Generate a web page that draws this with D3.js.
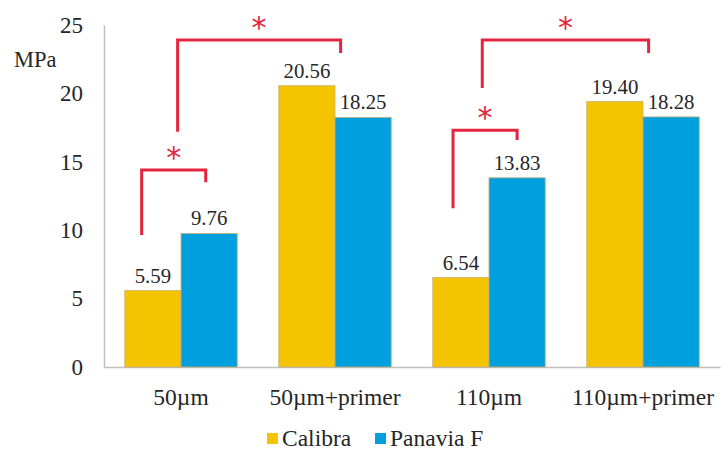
<!DOCTYPE html>
<html>
<head>
<meta charset="utf-8">
<script src="https://cdn.jsdelivr.net/npm/d3@7"></script>
<style>
  body { margin: 0; background: #fff; }
  svg text.lbl { font-family: "Liberation Serif", serif !important; }
  svg text.star { font-family: "DejaVu Sans", sans-serif !important; }
</style>
</head>
<body>
<script>
let categories = ['50µm', '50µm+primer', '110µm', '110µm+primer']
let seriesNames = ['Calibra', 'Panavia F']
let calibra = [5.59, 20.56, 6.54, 19.40]
let panavia = [9.76, 18.25, 13.83, 18.28]
let yTicks = [0, 5, 10, 15, 20, 25]
let colors = ['#f5c400', '#00a0de']

// significance brackets: [category index, offset in band (0..1)], y values in MPa
let brackets = [
  { from: [0, 0.15], to: [0, 0.72], yLeft: 9.65, yTop: 14.4, yRight: 13.5 },
  { from: [0, 0.47], to: [1, 0.55], yLeft: 17.2, yTop: 23.9, yRight: 22.95 },
  { from: [2, 0.18], to: [2, 0.75], yLeft: 11.6, yTop: 17.3, yRight: 16.6 },
  { from: [2, 0.44], to: [3, 0.55], yLeft: 20.4, yTop: 23.9, yRight: 22.95 }
]

let svgWidth = 721
let svgHeight = 453

let svg = d3.select('body')
  .append('svg')
  .attr('width', svgWidth)
  .attr('height', svgHeight)

let xScale = d3.scaleBand()
  .domain(categories)
  .range([104, 720])
  .paddingInner(0.27)
  .paddingOuter(0.135)

let subScale = d3.scaleBand()
  .domain(seriesNames)
  .range([0, xScale.bandwidth()])

let yScale = d3.scaleLinear()
  .domain([0, 25])
  .range([367, 25])

// y axis
let yAxis = svg.append('g')
  .attr('transform', 'translate(104,0)')
  .call(d3.axisLeft(yScale).tickValues(yTicks).tickSize(0).tickPadding(21))
yAxis.select('.domain').attr('stroke', '#bfbfbf').attr('stroke-width', 1.5)
yAxis.selectAll('text').attr('class', 'lbl')
  .style('font-size', '23px').attr('fill', '#262626')

svg.append('text')
  .attr('class', 'lbl')
  .attr('x', 14)
  .attr('y', 67)
  .style('font-size', '22.5px')
  .attr('fill', '#262626')
  .text('MPa')

// x axis
let xAxis = svg.append('g')
  .attr('transform', 'translate(0,367)')
  .call(d3.axisBottom(xScale).tickSize(0).tickPadding(21))
xAxis.select('.domain').attr('stroke', '#bfbfbf').attr('stroke-width', 1.5)
xAxis.selectAll('text').attr('class', 'lbl')
  .style('font-size', '23.5px').attr('fill', '#262626')

let rows = categories.map((c, i) => ({ cat: c, values: [calibra[i], panavia[i]] }))

let groups = svg.selectAll('.grp')
  .data(rows)
  .enter()
  .append('g')
  .attr('class', 'grp')
  .attr('transform', d => `translate(${xScale(d.cat)},0)`)

groups.selectAll('rect')
  .data(d => d.values.map((v, j) => ({ name: seriesNames[j], v: v, j: j })))
  .enter()
  .append('rect')
  .attr('x', d => subScale(d.name))
  .attr('y', d => yScale(d.v))
  .attr('width', subScale.bandwidth())
  .attr('height', d => yScale(0) - yScale(d.v))
  .attr('fill', d => colors[d.j])
  .attr('stroke', '#c8b070')
  .attr('stroke-width', 0.8)

groups.selectAll('.lbl')
  .data(d => d.values.map((v, j) => ({ name: seriesNames[j], v: v })))
  .enter()
  .append('text')
  .attr('class', 'lbl')
  .attr('x', d => subScale(d.name) + subScale.bandwidth() / 2)
  .attr('y', d => yScale(d.v) - 8)
  .attr('text-anchor', 'middle')
  .style('font-size', '20.8px')
  .attr('fill', '#262626')
  .text(d => d.v.toFixed(2))

// brackets
let bx = p => xScale(categories[p[0]]) + p[1] * xScale.bandwidth()
brackets.forEach(b => {
  let x1 = bx(b.from), x2 = bx(b.to)
  svg.append('path')
    .attr('d', `M${x1},${yScale(b.yLeft)}V${yScale(b.yTop)}H${x2}V${yScale(b.yRight)}`)
    .attr('fill', 'none')
    .attr('stroke', '#e4253f')
    .attr('stroke-width', 3)
  svg.append('text')
    .attr('class', 'star')
    .attr('x', (x1 + x2) / 2)
    .attr('y', yScale(b.yTop) - 2)
    .attr('text-anchor', 'middle')
    .style('font-size', '30px')
    .attr('fill', '#e4253f')
    .text('*')
})

// legend
let legend = svg.append('g').attr('transform', 'translate(267,433)')
let legendX = [0, 108]
seriesNames.forEach((n, i) => {
  legend.append('rect')
    .attr('x', legendX[i])
    .attr('y', 0)
    .attr('width', 11)
    .attr('height', 11)
    .attr('fill', colors[i])
  legend.append('text')
    .attr('class', 'lbl')
    .attr('x', legendX[i] + 15)
    .attr('y', 13)
    .style('font-size', '23.5px')
    .attr('fill', '#262626')
    .text(n)
})
</script>
</body>
</html>
